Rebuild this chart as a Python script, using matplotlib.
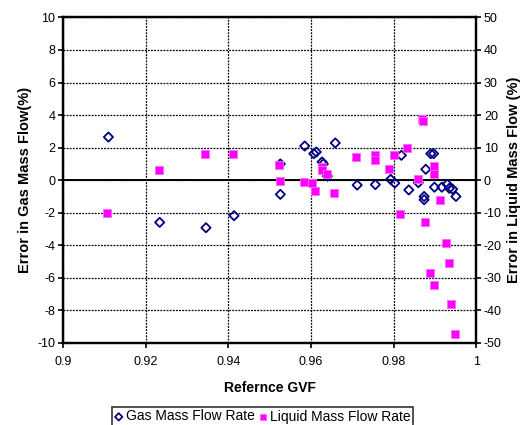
import numpy as np
import matplotlib.pyplot as plt

plt.rcParams['font.family'] = ['Liberation Sans', 'DejaVu Sans']
plt.rcParams['axes.unicode_minus'] = False

# Gas mass flow error (left axis, %)
gas_gvf = [0.911, 0.9234, 0.9346, 0.9414, 0.9526, 0.9526, 0.9585, 0.9607, 0.9613,
           0.9627, 0.963, 0.964, 0.9659, 0.9712, 0.9756, 0.9793, 0.9803, 0.9819,
           0.9837, 0.986, 0.9874, 0.9874, 0.9878, 0.989, 0.9897, 0.9899, 0.9917,
           0.993, 0.9935, 0.9943, 0.9951]
gas_err = [2.65, -2.59, -2.92, -2.18, 1.0, -0.87, 2.1, 1.63, 1.73,
           1.12, 1.0, 0.25, 2.29, -0.3, -0.27, 0.05, -0.18, 1.53,
           -0.6, -0.15, -1.0, -1.2, 0.67, 1.63, 1.63, -0.43, -0.43,
           -0.25, -0.5, -0.55, -1.0]

# Liquid mass flow error (right axis, %)
liq_gvf = [0.9106, 0.9232, 0.9344, 0.9412, 0.9522, 0.9524, 0.9583, 0.9602, 0.961,
           0.9626, 0.9626, 0.9638, 0.9656, 0.9709, 0.9754, 0.9756, 0.979, 0.9802,
           0.9815, 0.9833, 0.9858, 0.987, 0.9871, 0.9875, 0.9888, 0.9897, 0.9897,
           0.9897, 0.9912, 0.9926, 0.9934, 0.994, 0.9949]
liq_err = [-10.0, 3.0, 8.2, 8.0, 4.6, -0.3, -0.5, -0.8, -3.4,
           4.1, 3.1, 2.0, -3.9, 7.0, 7.6, 6.2, 3.4, 7.7,
           -10.4, 9.8, 0.5, 18.9, 18.1, -12.8, -28.4, 4.3, 1.8,
           -32.2, -6.0, -19.2, -25.3, -37.9, -47.2]

fig = plt.figure(figsize=(5.25, 4.25), dpi=100)
ax = fig.add_axes([0.12, 0.193, 0.787, 0.766])
ax2 = ax.twinx()

for a in (ax, ax2):
    for s in a.spines.values():
        s.set_linewidth(1.6)
        s.set_color('black')

ax.set_xlim(0.9, 1.0)
ax.set_ylim(-10, 10)
ax2.set_ylim(-50, 50)
ax.set_xticks([0.9, 0.92, 0.94, 0.96, 0.98, 1.0])
ax.set_xticklabels(['0.9', '0.92', '0.94', '0.96', '0.98', '1'])
ax.set_yticks(np.arange(-10, 11, 2))
ax2.set_yticks(np.arange(-50, 51, 10))
ax.tick_params(labelsize=9, direction='out', length=3.5, width=1.2, pad=2)
ax.tick_params(axis='x', pad=6)
ax2.tick_params(labelsize=9, direction='out', length=3.5, width=1.2, pad=2)
ax.grid(True, color='black', linestyle=(0, (1.5, 1)), linewidth=0.9)
ax.axhline(0, color='black', linewidth=1.4)

g = ax.scatter(gas_gvf, gas_err, marker='D', s=22, facecolors='none',
               edgecolors='#000080', linewidths=1.3, zorder=3)
l = ax2.scatter(liq_gvf, liq_err, marker='s', s=28, color='#FF00FF',
                edgecolors='#FF66FF', linewidths=0.6, zorder=3)

ax.set_xlabel('Refernce GVF', fontsize=10, fontweight='bold', labelpad=9)
ax.set_ylabel('Error in Gas Mass Flow(%)', fontsize=10.5, fontweight='bold', labelpad=4)
ax2.set_ylabel('Error in Liquid Mass Flow (%)', fontsize=10.5, fontweight='bold', labelpad=4)

leg = fig.legend([g, l], ['Gas Mass Flow Rate', 'Liquid Mass Flow Rate'],
                 loc='center', bbox_to_anchor=(0.5, 0.02), ncol=2,
                 fontsize=10, frameon=True, fancybox=False, handlelength=0.6,
                 handletextpad=0.2, columnspacing=0.3, borderpad=0.2,
                 markerscale=0.8)
leg.get_frame().set_edgecolor('black')
leg.get_frame().set_linewidth(1.2)

fig.savefig('out.png', dpi=100)
